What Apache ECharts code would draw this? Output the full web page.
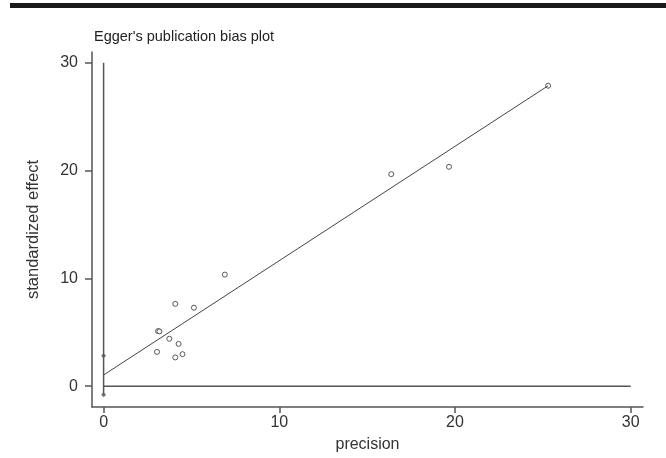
<!DOCTYPE html>
<html>
<head>
<meta charset="utf-8">
<script src="https://cdn.jsdelivr.net/npm/echarts@6/dist/echarts.min.js"></script>
<style>
html,body{margin:0;padding:0;background:#fff;}
#c{width:666px;height:458px;}
</style>
</head>
<body>
<div id="c"></div>
<script>
// Data
var precision = [25.3, 16.37, 19.66, 6.9, 4.08, 5.14, 3.10, 3.18, 3.74, 4.27, 3.04, 4.49, 4.08];
var effect    = [27.87, 19.67, 20.35, 10.35, 7.64, 7.28, 5.11, 5.08, 4.40, 3.92, 3.18, 2.97, 2.67];
var interceptCI = [2.82, -0.80];
var fitLine = [[0, 1.04], [25.3, 27.87]];
var xTicks = [0, 10, 20, 30];
var yTicks = [0, 10, 20, 30];

var FONT = '"Liberation Sans Narrow", "Arial Narrow", "Liberation Sans", sans-serif';
var points = precision.map(function (p, i) { return [p, effect[i]]; });
var ciPoints = interceptCI.map(function (v) { return [0, v]; });

var chart = echarts.init(document.getElementById('c'), null, {renderer: 'canvas'});
chart.setOption({
  animation: false,
  backgroundColor: '#fff',
  graphic: [{
    type: 'rect', left: 10, top: 3,
    shape: {width: 660, height: 5},
    style: {fill: '#1a1a1a'}
  }],
  title: {
    text: "Egger's publication bias plot",
    left: 89, top: 24,
    textStyle: {fontFamily: FONT, fontSize: 14.5, fontWeight: 'normal', color: '#222'}
  },
  grid: {left: 92, right: 23, top: 52, bottom: 36},
  xAxis: {
    type: 'value', min: -0.66, max: 30.7,
    name: 'precision', nameLocation: 'middle', nameGap: 30,
    nameTextStyle: {fontFamily: FONT, fontSize: 16, color: '#333'},
    axisLine: {show: true, onZero: false, lineStyle: {color: '#555', width: 1.5}},
    axisTick: {show: true, length: 6, customValues: xTicks, lineStyle: {color: '#555', width: 1.5}},
    axisLabel: {customValues: xTicks, margin: 8, fontFamily: FONT, fontSize: 16, color: '#333'},
    splitLine: {show: false}
  },
  yAxis: {
    type: 'value', min: -1.93, max: 31.0,
    name: 'standardized effect', nameLocation: 'middle', nameGap: 50, nameRotate: 90,
    nameTextStyle: {fontFamily: FONT, fontSize: 16.5, color: '#333'},
    axisLine: {show: true, onZero: false, lineStyle: {color: '#555', width: 1.5}},
    axisTick: {show: true, length: 7, customValues: yTicks, lineStyle: {color: '#555', width: 1.5}},
    axisLabel: {customValues: yTicks, margin: 14, fontFamily: FONT, fontSize: 16, color: '#333'},
    splitLine: {show: false}
  },
  series: [
    {
      type: 'line', data: [[0, 0], [30, 0]], symbol: 'none', silent: true,
      lineStyle: {color: '#555', width: 1.5}
    },
    {
      type: 'line', data: [[0, interceptCI[1]], [0, 30]], symbol: 'none', silent: true,
      lineStyle: {color: '#555', width: 1.5}
    },
    {
      type: 'line', data: fitLine, symbol: 'none', silent: true,
      lineStyle: {color: '#444', width: 1}
    },
    {
      type: 'scatter', data: ciPoints, symbol: 'diamond', symbolSize: 5,
      itemStyle: {color: '#555'}
    },
    {
      type: 'scatter', data: points, symbol: 'circle', symbolSize: 5,
      itemStyle: {color: '#fff', borderColor: '#333', borderWidth: 1}
    }
  ]
});
</script>
</body>
</html>
